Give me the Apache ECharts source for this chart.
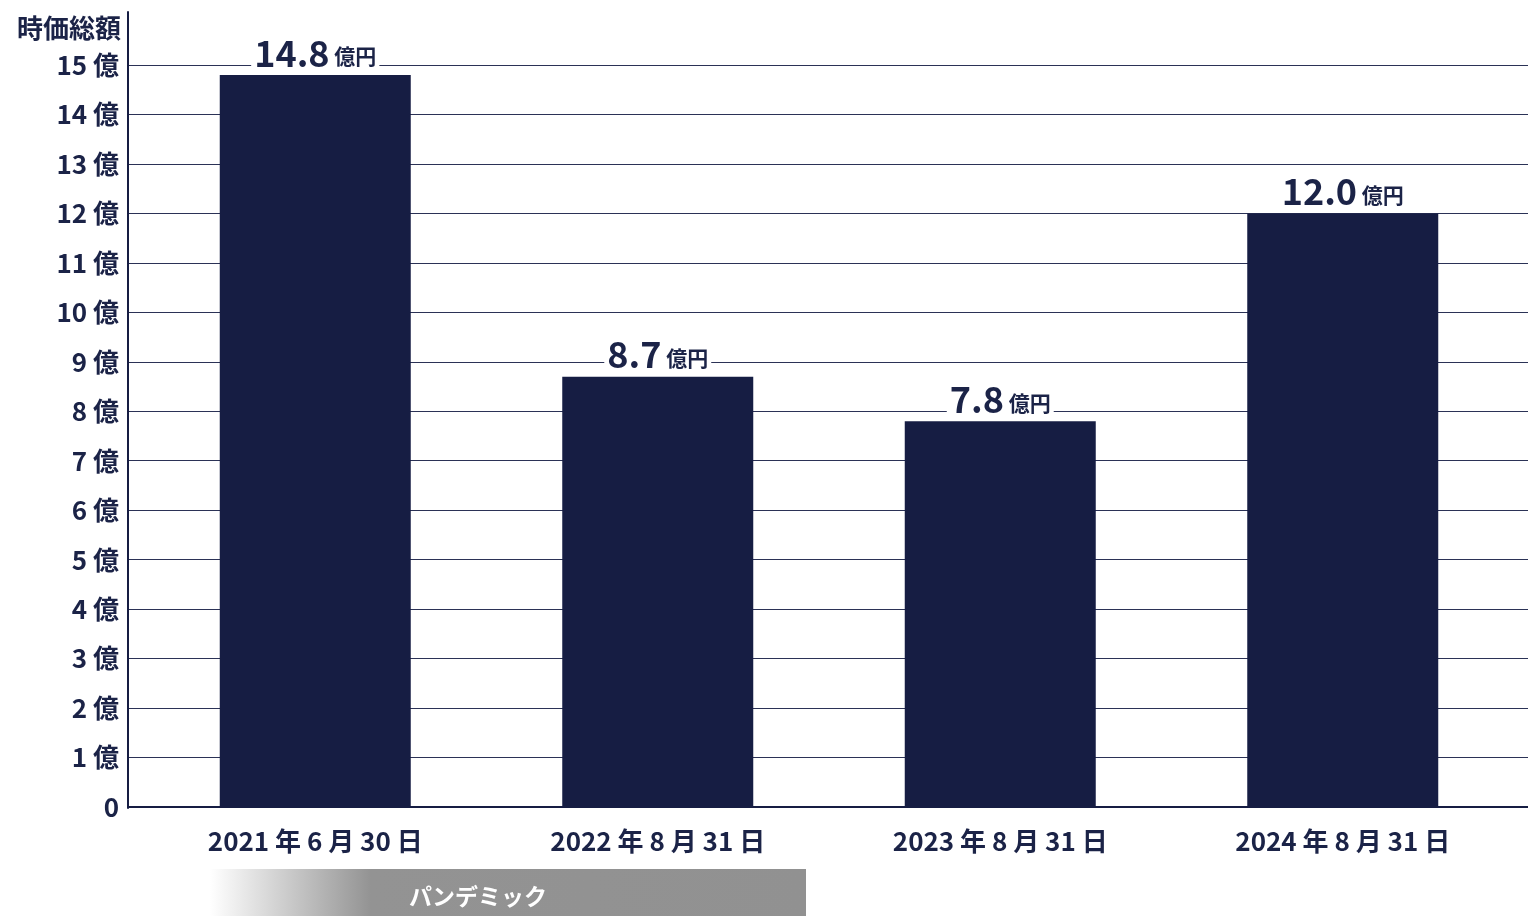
<!DOCTYPE html>
<html>
<head>
<meta charset="utf-8">
<script src="https://cdn.jsdelivr.net/npm/echarts@6/dist/echarts.min.js"></script>
<style>
  html, body { margin: 0; padding: 0; background: #ffffff; }
  #chart { width: 1528px; height: 916px; }
</style>
</head>
<body>
<div id="chart"></div>
<script>
// 時価総額の推移（億円）
const categories = ['2021 年 6 月 30 日', '2022 年 8 月 31 日', '2023 年 8 月 31 日', '2024 年 8 月 31 日'];
const marketCap = [14.8, 8.7, 7.8, 12.0];
const yTicks = [0, 15, 1]; // min, max, interval
const axisTitle = '時価総額';
const periodLabel = 'パンデミック';

const NAVY = '#161d43';
const TEXT = '#1b2347';
const FONT = '"Noto Sans CJK JP", "Noto Sans", sans-serif';

const chart = echarts.init(document.getElementById('chart'), null, { renderer: 'canvas' });

chart.setOption({
  backgroundColor: '#ffffff',
  animation: false,
  title: {
    text: axisTitle,
    left: 12,
    top: 10,
    textStyle: { color: TEXT, fontFamily: FONT, fontWeight: 'bold', fontSize: 26 }
  },
  grid: [
    // scale + gridlines
    { left: 128, right: 0, top: 65, bottom: 109 },
    // bars
    { left: 144, right: 14, top: 65, bottom: 109 },
    // tall vertical axis line
    { left: 128, right: 0, top: 12, bottom: 108 }
  ],
  xAxis: [
    {
      gridIndex: 0, type: 'category', data: categories,
      axisLine: { show: true, lineStyle: { color: NAVY, width: 2 } },
      axisTick: { show: false }, axisLabel: { show: false }, splitLine: { show: false }
    },
    {
      gridIndex: 1, type: 'category', data: categories,
      axisLine: { show: false }, axisTick: { show: false },
      axisLabel: {
        color: TEXT, fontFamily: FONT, fontWeight: 'bold', fontSize: 26, margin: 21
      }
    },
    {
      gridIndex: 2, type: 'category', data: categories, show: false
    }
  ],
  yAxis: [
    {
      gridIndex: 0, type: 'value', min: yTicks[0], max: yTicks[1], interval: yTicks[2],
      axisLine: { show: false }, axisTick: { show: false },
      axisLabel: {
        color: TEXT, fontFamily: FONT, fontWeight: 'bold', fontSize: 26, margin: 9,
        formatter: v => v === 0 ? '0' : v + ' 億'
      },
      splitLine: { show: true, lineStyle: { color: '#2b3256', width: 1 } }
    },
    {
      gridIndex: 1, type: 'value', min: yTicks[0], max: yTicks[1], interval: yTicks[2],
      show: false
    },
    {
      gridIndex: 2, type: 'value', min: 0, max: 1,
      axisLine: { show: true, lineStyle: { color: NAVY, width: 2 } },
      axisTick: { show: false }, axisLabel: { show: false }, splitLine: { show: false }
    }
  ],
  series: [
    {
      type: 'bar',
      xAxisIndex: 1, yAxisIndex: 1,
      data: marketCap,
      barWidth: 191,
      itemStyle: { color: NAVY },
      label: {
        show: true,
        position: 'top',
        distance: 4,
        backgroundColor: '#ffffff',
        padding: [0, 3, 0, 3],
        formatter: p => '{n|' + p.value.toFixed(1) + '}{u| 億円}',
        rich: {
          n: { color: TEXT, fontFamily: FONT, fontWeight: 'bold', fontSize: 36, lineHeight: 44, verticalAlign: 'bottom' },
          u: { color: TEXT, fontFamily: FONT, fontWeight: 'bold', fontSize: 21, lineHeight: 44, verticalAlign: 'bottom', padding: [0, 0, 4, 0] }
        }
      }
    }
  ],
  graphic: [
    {
      type: 'group',
      left: 210,
      top: 869,
      children: [
        {
          type: 'rect',
          shape: { x: 0, y: 0, width: 596, height: 47 },
          style: {
            fill: new echarts.graphic.LinearGradient(0, 0, 1, 0, [
              { offset: 0, color: '#ffffff' },
              { offset: 0.27, color: '#939393' },
              { offset: 1, color: '#919191' }
            ])
          }
        },
        {
          type: 'text',
          x: 268, y: 27,
          style: {
            text: periodLabel,
            fill: '#ffffff',
            font: 'bold 23px ' + FONT,
            align: 'center',
            verticalAlign: 'middle'
          }
        }
      ]
    }
  ]
});
</script>
</body>
</html>
